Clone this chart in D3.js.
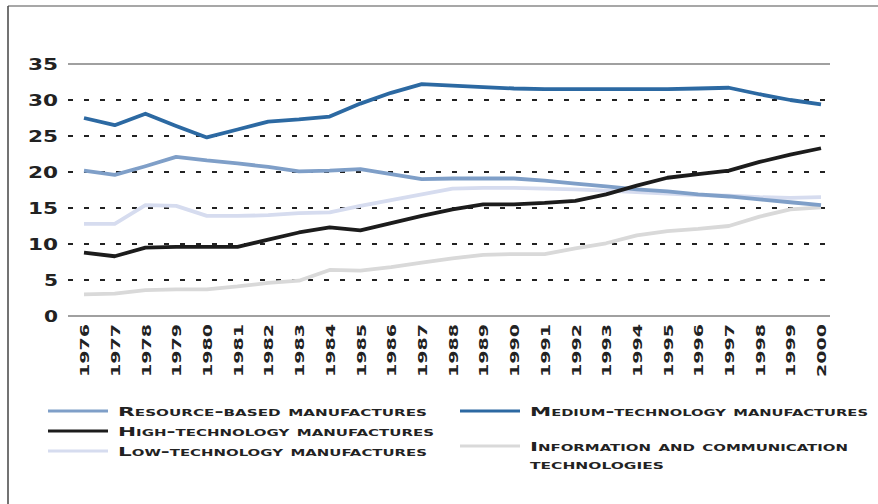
<!DOCTYPE html>
<html><head><meta charset="utf-8">
<script src="https://cdn.jsdelivr.net/npm/d3@7"></script>
<style>
html,body{margin:0;padding:0;background:#fff;}
svg{display:block;}
</style></head>
<body>
<svg id="chart" width="878" height="504"></svg>
<script>
const years = d3.range(1976, 2001).map(String);
const resourceBased = [20.2, 19.6, 20.8, 22.1, 21.6, 21.2, 20.7, 20.1, 20.2, 20.4, 19.7, 19.0, 19.1, 19.1, 19.1, 18.8, 18.4, 18.0, 17.6, 17.3, 16.9, 16.6, 16.2, 15.8, 15.4];
const mediumTech = [27.5, 26.5, 28.1, 26.4, 24.8, 25.9, 27.0, 27.3, 27.7, 29.5, 31.0, 32.2, 32.0, 31.8, 31.6, 31.5, 31.5, 31.5, 31.5, 31.5, 31.6, 31.7, 30.8, 30.0, 29.4];
const highTech = [8.8, 8.3, 9.5, 9.6, 9.6, 9.6, 10.6, 11.6, 12.3, 11.9, 12.9, 13.9, 14.8, 15.5, 15.5, 15.7, 16.0, 16.9, 18.1, 19.2, 19.7, 20.2, 21.4, 22.4, 23.3];
const lowTech = [12.8, 12.8, 15.4, 15.3, 13.9, 13.9, 14.0, 14.3, 14.4, 15.3, 16.1, 16.9, 17.7, 17.8, 17.8, 17.7, 17.6, 17.4, 17.2, 17.0, 16.8, 16.7, 16.5, 16.4, 16.5];
const ict = [3.0, 3.1, 3.6, 3.7, 3.7, 4.1, 4.6, 4.9, 6.4, 6.3, 6.8, 7.4, 8.0, 8.5, 8.6, 8.6, 9.4, 10.1, 11.2, 11.8, 12.1, 12.5, 13.8, 14.8, 15.1];
const yTicks = [0, 5, 10, 15, 20, 25, 30, 35];

const seriesNames = ["Resource-based manufactures", "Medium-technology manufactures", "High-technology manufactures", "Low-technology manufactures", "Information and communication technologies"];
const seriesColors = ["#7f9fc8", "#2c69a2", "#1c1c1c", "#d6dcef", "#d9d9d9"];
const seriesValues = [resourceBased, mediumTech, highTech, lowTech, ict];

const svg = d3.select("#chart");
const font = "'DejaVu Sans', sans-serif";

// frame
svg.append("line").attr("x1", 8).attr("x2", 878).attr("y1", 6).attr("y2", 6).attr("stroke", "#8a8a8a").attr("stroke-width", 1.5);
svg.append("line").attr("x1", 8).attr("x2", 8).attr("y1", 6).attr("y2", 504).attr("stroke", "#444").attr("stroke-width", 1.5);

const x = d3.scalePoint().domain(years).range([84, 821]);
const y = d3.scaleLinear().domain([0, 35]).range([316, 64]);

// grid
const gx0 = 68, gx1 = 832;
yTicks.forEach(t => {
  const solid = (t === 0 || t === 35);
  svg.append("line")
    .attr("x1", gx0).attr("x2", solid ? 830 : gx1)
    .attr("y1", y(t)).attr("y2", y(t))
    .attr("stroke", solid ? "#a0a0a0" : "#222")
    .attr("stroke-width", 1.8)
    .attr("stroke-dasharray", solid ? null : "5,11");
});

// y axis labels
const yAxis = d3.axisLeft(y).tickValues(yTicks).tickSize(0).tickPadding(0);
const ya = svg.append("g").attr("transform", "translate(58,0)").call(yAxis);
ya.select(".domain").remove();
ya.selectAll("text")
  .attr("font-family", font).attr("font-weight", "bold").attr("font-size", 16)
  .attr("fill", "#222").attr("dy", "0.36em")
  .each(function(d) {
    const s = String(d);
    d3.select(this).attr("textLength", s.length === 1 ? 14 : 30).attr("lengthAdjust", "spacingAndGlyphs");
  });

// x axis labels
const xAxis = d3.axisBottom(x).tickSize(0).tickPadding(0);
const xa = svg.append("g").attr("transform", "translate(0,322)").call(xAxis);
xa.select(".domain").remove();
xa.selectAll("text")
  .attr("font-family", font).attr("font-weight", "bold").attr("font-size", 13)
  .attr("fill", "#222")
  .attr("text-anchor", "end")
  .attr("transform", "rotate(-90)")
  .attr("x", -2).attr("y", 0).attr("dy", "0.36em")
  .attr("textLength", 53).attr("lengthAdjust", "spacingAndGlyphs");

// lines
const line = d3.line().x((d, i) => x(years[i])).y(d => y(d));
const drawOrder = [4, 3, 0, 2, 1];
drawOrder.forEach(k => {
  svg.append("path").datum(seriesValues[k])
    .attr("fill", "none")
    .attr("stroke", seriesColors[k])
    .attr("stroke-width", 3.8)
    .attr("stroke-linejoin", "round")
    .attr("d", line);
});

// legend
const legendItems = [
  {k: 0, lx: 48, ly: 411, lines: ["Resource-based manufactures"], len: [309]},
  {k: 2, lx: 48, ly: 431, lines: ["High-technology manufactures"], len: [316]},
  {k: 3, lx: 48, ly: 451, lines: ["Low-technology manufactures"], len: [309]},
  {k: 1, lx: 460, ly: 411, lines: ["Medium-technology manufactures"], len: [338]},
  {k: 4, lx: 460, ly: 446, lines: ["Information and communication", "technologies"], len: [318, 134]}
];
legendItems.forEach(it => {
  svg.append("line").attr("x1", it.lx).attr("x2", it.lx + 60)
    .attr("y1", it.ly).attr("y2", it.ly)
    .attr("stroke", seriesColors[it.k]).attr("stroke-width", 3);
  it.lines.forEach((s, j) => {
    svg.append("text")
      .attr("x", it.lx + 70).attr("y", it.ly + j * 18)
      .attr("dy", "0.38em")
      .attr("font-family", font).attr("font-weight", "bold").attr("font-size", 13)
      .style("font-variant", "small-caps")
      .attr("fill", "#222")
      .attr("textLength", it.len[j]).attr("lengthAdjust", "spacingAndGlyphs")
      .text(s);
  });
});
</script>
</body></html>
